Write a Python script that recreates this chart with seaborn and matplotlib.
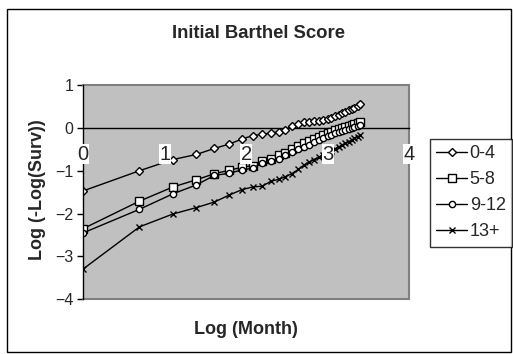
import numpy as np
import pandas as pd
import matplotlib
matplotlib.use("Agg")
import matplotlib.pyplot as plt
from matplotlib.lines import Line2D
from matplotlib.patches import Rectangle
import seaborn as sns

# ---- data ----
log_month = [0.00, 0.69, 1.10, 1.39, 1.61, 1.79, 1.95, 2.08, 2.20, 2.30,
             2.40, 2.48, 2.56, 2.64, 2.71, 2.77, 2.83, 2.89, 2.94, 3.00,
             3.04, 3.09, 3.14, 3.18, 3.22, 3.26, 3.30, 3.33, 3.37, 3.40]

s_0_4 = [-1.47, -1.00, -0.74, -0.62, -0.48, -0.38, -0.26, -0.18, -0.15, -0.12,
         -0.09, -0.04, 0.04, 0.10, 0.13, 0.14, 0.15, 0.17, 0.19, 0.21,
         0.23, 0.27, 0.31, 0.34, 0.37, 0.41, 0.44, 0.47, 0.51, 0.55]
s_5_8 = [-2.35, -1.71, -1.38, -1.21, -1.07, -0.99, -0.92, -0.88, -0.78, -0.72,
         -0.63, -0.58, -0.50, -0.42, -0.36, -0.31, -0.26, -0.21, -0.16, -0.12,
         -0.09, -0.06, -0.03, 0.00, 0.03, 0.05, 0.07, 0.09, 0.12, 0.14]
s_9_12 = [-2.45, -1.90, -1.54, -1.33, -1.11, -1.06, -0.98, -0.94, -0.82, -0.78,
          -0.72, -0.63, -0.57, -0.50, -0.45, -0.39, -0.34, -0.29, -0.24, -0.20,
          -0.16, -0.13, -0.10, -0.07, -0.04, -0.02, 0.00, 0.02, 0.04, 0.06]
s_13p = [-3.29, -2.31, -2.01, -1.86, -1.73, -1.57, -1.44, -1.38, -1.36, -1.25,
         -1.20, -1.14, -1.07, -0.97, -0.87, -0.80, -0.74, -0.69, -0.63, -0.58,
         -0.53, -0.49, -0.44, -0.40, -0.36, -0.32, -0.28, -0.24, -0.21, -0.17]

groups = ["0-4", "5-8", "9-12", "13+"]
series = [s_0_4, s_5_8, s_9_12, s_13p]
markers = ["D", "s", "o", "x"]
msizes = [4, 5.5, 4.5, 5]

x_ticks = [0, 1, 2, 3, 4]
y_ticks = [-4, -3, -2, -1, 0, 1]

rows = []
for g, vals in zip(groups, series):
    for xv, yv in zip(log_month, vals):
        rows.append({"x": xv, "y": yv, "group": g})
df = pd.DataFrame(rows)

sns.set_style("white")
plt.rcParams["font.family"] = ["Liberation Sans", "DejaVu Sans"]

W, H = 513, 354
fig = plt.figure(figsize=(W / 100, H / 100), dpi=100)
ax = fig.add_axes([83.3 / W, 1 - 299.3 / H, (409 - 83.3) / W, (299.3 - 85) / H])
ax.set_facecolor("#C0C0C0")

for g, m, ms in zip(groups, markers, msizes):
    sub = df[df["group"] == g]
    sns.lineplot(data=sub, x="x", y="y", ax=ax, color="black", lw=1,
                 marker=m, markersize=ms, markerfacecolor="white",
                 markeredgecolor="black", markeredgewidth=1,
                 legend=False, zorder=3)

ax.set_xlim(0, 4)
ax.set_ylim(-4, 1)
ax.set_xticks(x_ticks)
ax.set_yticks(y_ticks)
ax.set_xlabel("")
ax.set_ylabel("")

# spines
ax.spines["bottom"].set_position(("data", 0))
ax.spines["bottom"].set_color("black")
ax.spines["bottom"].set_linewidth(1)
ax.spines["bottom"].set_zorder(2.6)
ax.spines["left"].set_color("black")
ax.spines["left"].set_linewidth(1)
ax.spines["left"].set_zorder(4)
for s in ["top", "right"]:
    ax.spines[s].set_color("#808080")
    ax.spines[s].set_linewidth(1.5)
ax.plot([0, 4], [-4, -4], color="#808080", lw=1.5, clip_on=False, zorder=2)

ax.tick_params(axis="x", direction="in", length=4, width=1, color="black",
               labelsize=14.5, pad=12)
ax.tick_params(axis="y", direction="out", length=4, width=1, color="black",
               labelsize=11.5, pad=3, left=True)
for lab in ax.get_xticklabels():
    lab.set_bbox(dict(facecolor="white", edgecolor="none", pad=0.3))
ax.xaxis.set_zorder(5)

fig.text(259 / W, 1 - 34 / H, "Initial Barthel Score", ha="center", va="center",
         fontsize=13.3, fontweight="bold")
fig.text(246 / W, 1 - 329 / H, "Log (Month)", ha="center", va="center",
         fontsize=13, fontweight="bold")
fig.text(37 / W, 1 - 190 / H, "Log (-Log(Surv))", ha="center", va="center",
         fontsize=13, fontweight="bold", rotation=90)

# outer frame
fig.patches.append(Rectangle((6.5 / W, 1 - 352 / H), (510.5 - 6.5) / W, (352 - 8.5) / H,
                             transform=fig.transFigure, fill=False,
                             edgecolor="black", lw=1))

handles = [Line2D([], [], color="black", lw=1, marker=m, markersize=ms,
                  markerfacecolor="white", markeredgecolor="black")
           for m, ms in zip(markers, msizes)]
leg = fig.legend(handles, groups, loc="upper left",
                 bbox_to_anchor=(430 / W, 1 - 139 / H), bbox_transform=fig.transFigure,
                 fontsize=13, frameon=True, fancybox=False, edgecolor="black",
                 handlelength=1.7, handletextpad=0.15, labelspacing=0.5,
                 borderpad=0.35, borderaxespad=0)
leg.get_frame().set_linewidth(1)

fig.savefig("out.png", dpi=100)
